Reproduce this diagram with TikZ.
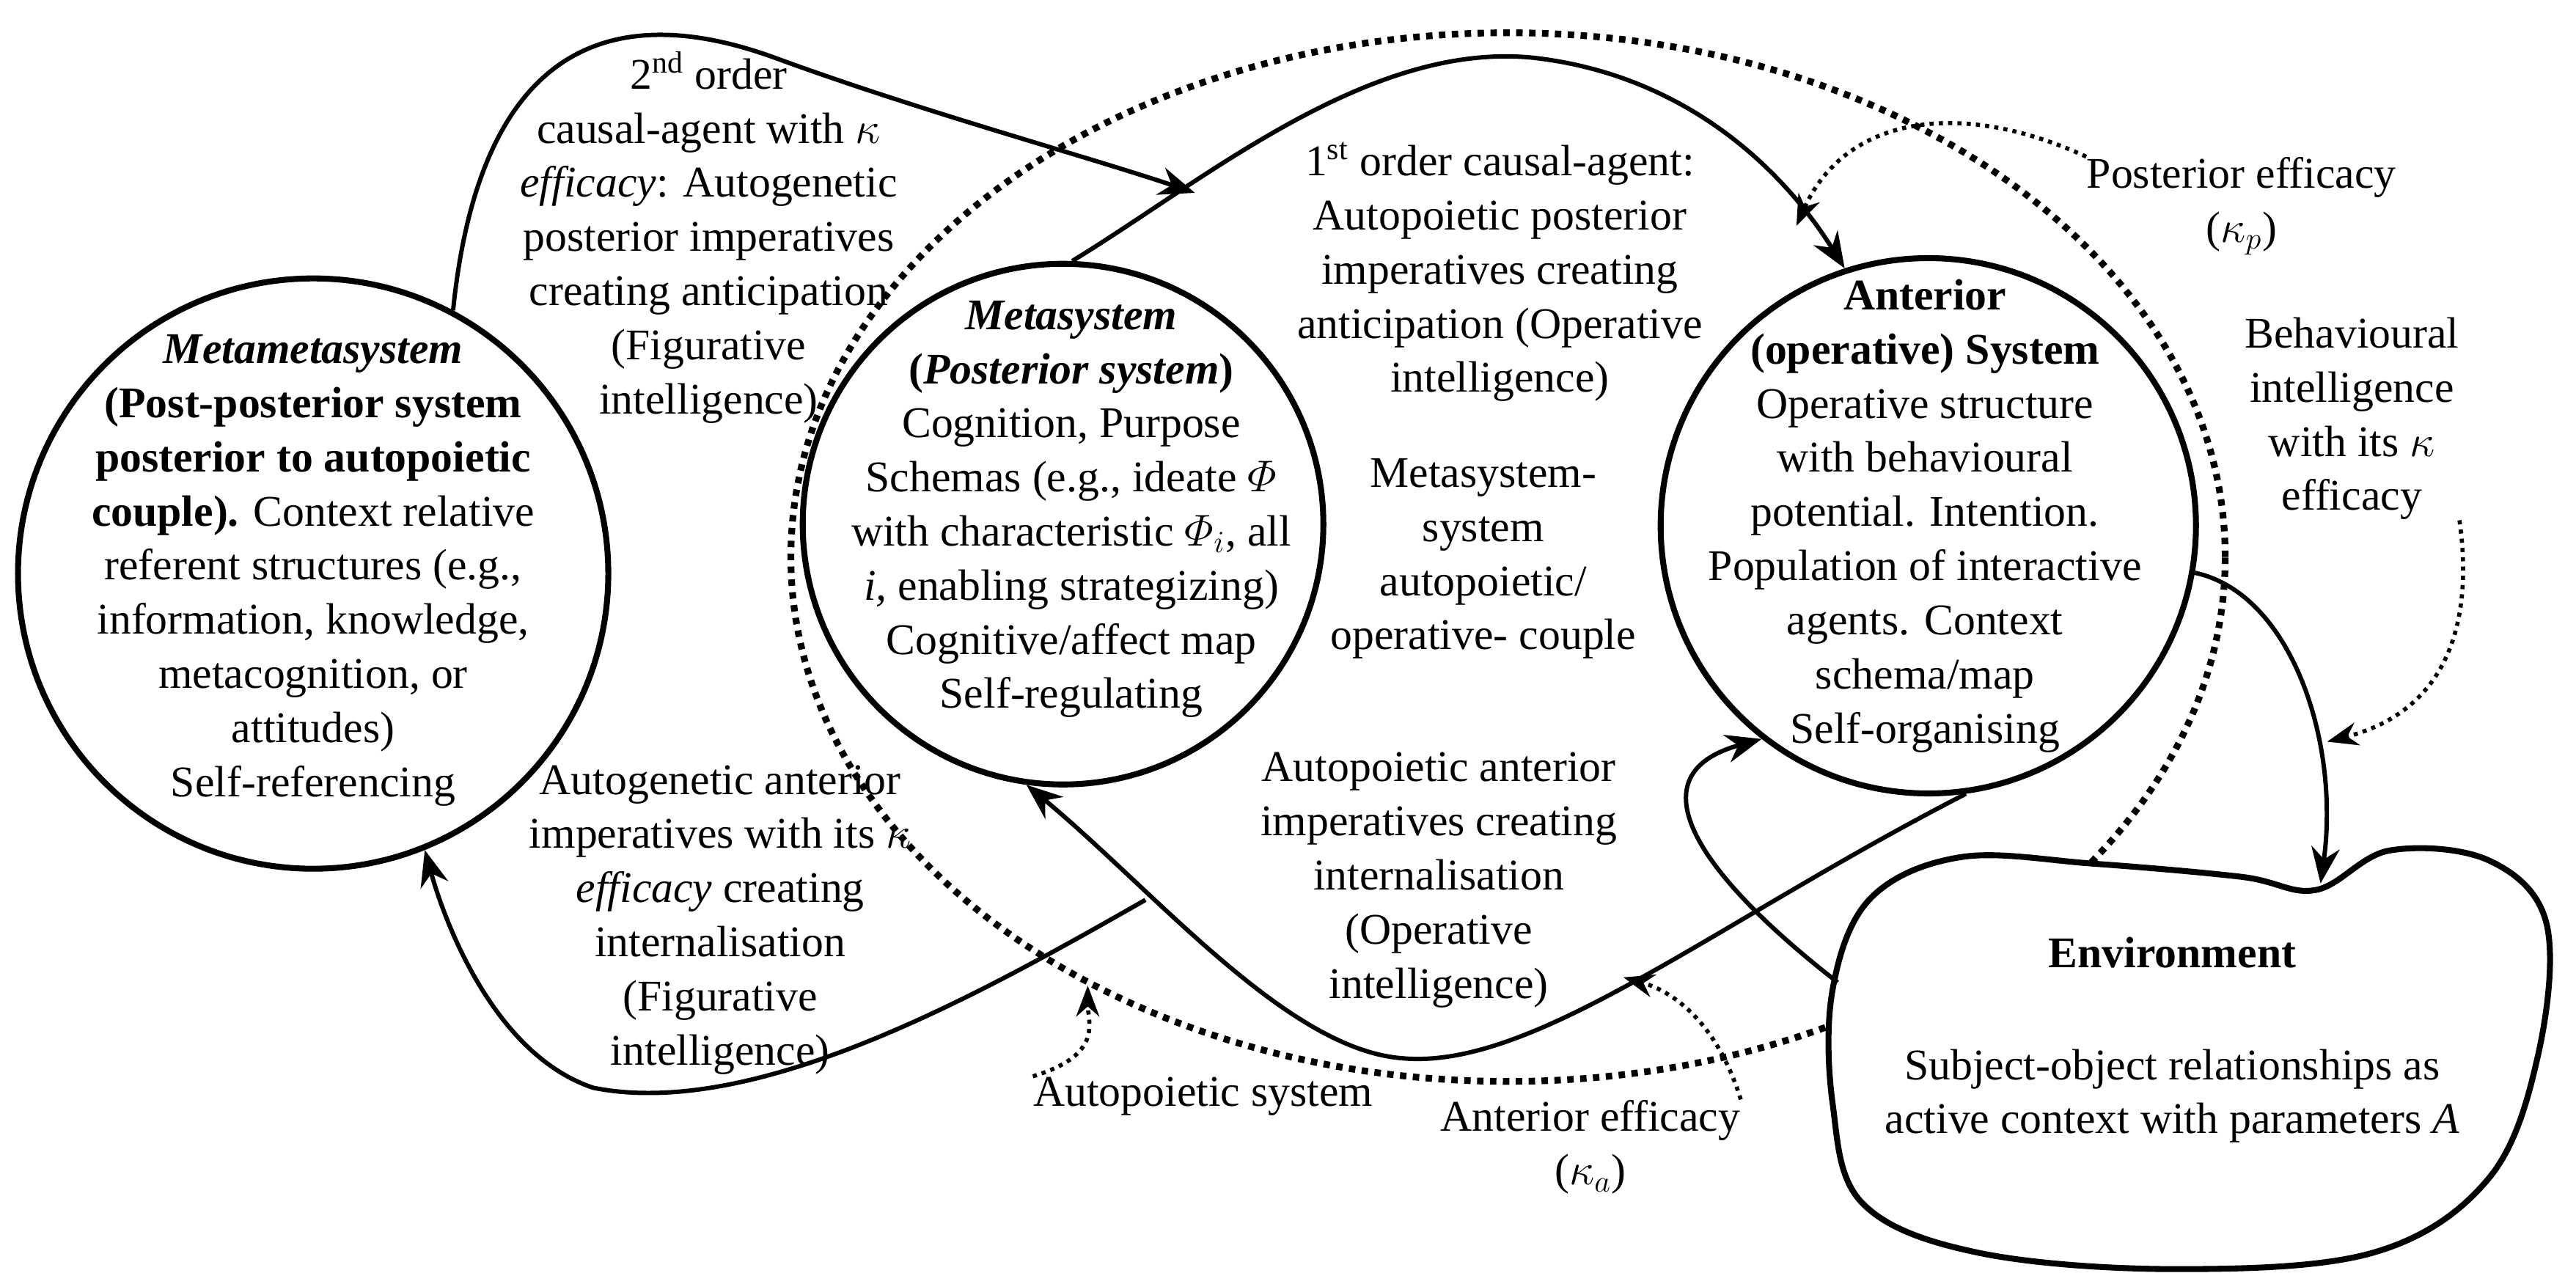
\documentclass[tikz,border=0pt]{standalone}
\usepackage{amsmath}
\usepackage{fontspec}
\setmainfont{Liberation Serif}
\usetikzlibrary{arrows.meta}
\begin{document}
\begin{tikzpicture}[x=0.02248cm,y=-0.02248cm,
  txt/.style={align=center,inner sep=0pt,font=\fontsize{17}{21}\selectfont},
  sys/.style={draw,line width=2.3pt,circle,inner sep=0pt},
  arr/.style={line width=1.7pt,-{Stealth[length=14pt,width=11pt]}},
  darr/.style={line width=1.6pt,dotted,-{Stealth[length=12pt,width=9pt]}}]
\useasboundingbox (0,0) rectangle (1563,779);
% dotted autopoietic loop
\draw[line width=2.6pt,dash pattern=on 2.5pt off 2.5pt] (915,338) ellipse [x radius=9.78cm, y radius=7.15cm];
% circles
\node[sys,minimum size=8.05cm] (mm) at (190,348) {};
\node[sys,minimum size=7.1cm] (ms) at (645,318) {};
\node[sys,minimum size=7.3cm] (an) at (1170,319) {};
% environment
\draw[line width=2.3pt,fill=white] plot[smooth cycle,tension=0.6] coordinates {(1112,600) (1135,545) (1190,520) (1270,524) (1360,532) (1405,540) (1450,516) (1510,522) (1545,560) (1540,640) (1510,715) (1440,760) (1320,770) (1200,760) (1130,730) (1112,670)};
\coordinate (env) at (1330,640);
% texts
\node[txt] (t2nd) at (430,144) {2\textsuperscript{nd} order\\causal-agent with $\kappa$\\\textit{efficacy}: Autogenetic\\posterior imperatives\\creating anticipation\\(Figurative\\intelligence)};
\node[txt] (t1st) at (910,165) {1\textsuperscript{st} order causal-agent:\\Autopoietic posterior\\imperatives creating\\anticipation (Operative\\intelligence)};
\node[txt] (tmm) at (190,346) {\textbf{\textit{Metametasystem}}\\\textbf{(Post-posterior system}\\\textbf{posterior to autopoietic}\\\textbf{couple).} Context relative\\referent structures (e.g.,\\information, knowledge,\\metacognition, or\\attitudes)\\Self-referencing};
\node[txt] (tms) at (650,309) {\textbf{\textit{Metasystem}}\\\textbf{(\textit{Posterior system})}\\Cognition, Purpose\\Schemas (e.g., ideate $\varPhi$\\with characteristic $\varPhi_i$, all\\\textit{i,} enabling strategizing)\\Cognitive/affect map\\Self-regulating};
\node[txt] (tcp) at (900,339) {Metasystem-\\system\\autopoietic/\\operative- couple};
\node[txt] (tan) at (1168,313) {\textbf{Anterior}\\\textbf{(operative) System}\\Operative structure\\with behavioural\\potential. Intention.\\Population of interactive\\agents. Context\\schema/map\\Self-organising};
\node[txt] (tpe) at (1360,125) {Posterior efficacy\\($\kappa_p$)};
\node[txt] (tbi) at (1427,254) {Behavioural\\intelligence\\with its $\kappa$\\efficacy};
\node[txt] (tga) at (437,558) {Autogenetic anterior\\imperatives with its $\kappa$\\\textit{efficacy} creating\\internalisation\\(Figurative\\intelligence)};
\node[txt] (tpa) at (873,534) {Autopoietic anterior\\imperatives creating\\internalisation\\(Operative\\intelligence)};
\node[txt] (tas) at (730,665) {Autopoietic system};
\node[txt] (tae) at (965,696) {Anterior efficacy\\($\kappa_a$)};
\node[txt,font=\fontsize{17}{21}\selectfont\bfseries] (tenv) at (1318,578) {Environment};
\node[txt] (tsub) at (1318,665) {Subject-object relationships as\\active context with parameters \textit{A}};
% connectors
\draw[arr] (mm.62) .. controls (290,40) and (360,-5) .. (470,35) .. controls (560,68) and (660,95) .. (725,117);
\draw[arr] (ms.88) .. controls (730,110) and (830,25) .. (930,35) .. controls (1020,45) and (1080,100) .. (an.108);
\draw[arr] (an.-10) .. controls (1390,360) and (1420,450) .. (1408,536);
\draw[arr] (1115,596) .. controls (1030,530) and (990,470) .. (an.-128);
\draw[arr] (an.-82) .. controls (1040,560) and (930,650) .. (850,642) .. controls (780,636) and (700,540) .. (ms.-98);
\draw[arr] (695,546) .. controls (600,600) and (460,680) .. (360,660) .. controls (300,640) and (270,560) .. (mm.-68);
\draw[darr] (tpe.north west) .. controls (1190,60) and (1120,70) .. (1090,137);
\draw[darr] (tbi.south east) .. controls (1500,370) and (1490,430) .. (1412,450);
\draw[darr] (tae.north east) .. controls (1040,615) and (1010,600) .. (985,593);
\draw[darr] (tas.north west) .. controls (670,640) and (660,620) .. (660,598);
\end{tikzpicture}
\end{document}
